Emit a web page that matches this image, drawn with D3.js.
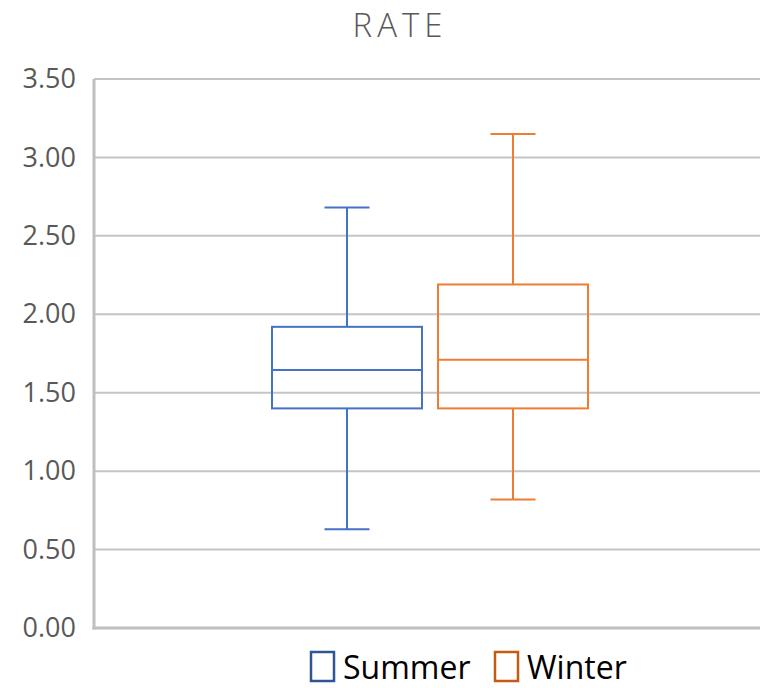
<!DOCTYPE html>
<html><head><meta charset="utf-8">
<script src="https://cdn.jsdelivr.net/npm/d3@7"></script>
<style>body{margin:0;background:#fff;} text{font-family:"Open Sans",sans-serif;}</style>
</head><body>
<svg id="c" width="760" height="688"></svg>
<script>
const categories = ["Summer", "Winter"];
const mins    = [0.63, 0.82];
const q1s     = [1.40, 1.40];
const medians = [1.645, 1.71];
const q3s     = [1.92, 2.19];
const maxs    = [2.68, 3.15];
const yTicks  = [0, 0.5, 1, 1.5, 2, 2.5, 3, 3.5];
const colors  = ["#4472C4", "#ED7D31"];
const legendColors = ["#2F5597", "#C55A11"];

const svg = d3.select("#c");
const pLeft = 94, pRight = 760, pTop = 79, pBottom = 628;
const y = d3.scaleLinear().domain([0, 3.5]).range([pBottom, pTop]);
const x = d3.scaleBand().domain(categories).range([272, 588]).paddingInner(0.0964);

// gridlines
svg.append("g").selectAll("line").data(yTicks.filter(d => d > 0)).join("line")
  .attr("x1", pLeft).attr("x2", pRight)
  .attr("y1", d => y(d)).attr("y2", d => y(d))
  .attr("stroke", "#c4c4c4").attr("stroke-width", 2);

// axes lines
svg.append("line").attr("x1", pLeft).attr("x2", pLeft).attr("y1", y(3.5)).attr("y2", pBottom + 1.5)
  .attr("stroke", "#bfbfbf").attr("stroke-width", 3);
svg.append("line").attr("x1", pLeft - 1.5).attr("x2", pRight).attr("y1", pBottom).attr("y2", pBottom)
  .attr("stroke", "#bfbfbf").attr("stroke-width", 3);

// y tick labels
const yAxis = d3.axisLeft(y).tickValues(yTicks).tickFormat(d3.format(".2f")).tickSize(0).tickPadding(18);
const ya = svg.append("g").attr("transform", `translate(${pLeft},0)`).call(yAxis);
ya.select(".domain").remove();
ya.selectAll("text").attr("font-size", 27).attr("fill", "#595959").attr("font-family", "Open Sans");

// boxes
const data = categories.map((c, i) => ({c, i, min: mins[i], q1: q1s[i], med: medians[i], q3: q3s[i], max: maxs[i]}));
const g = svg.append("g").selectAll("g").data(data).join("g");
const bw = x.bandwidth();
g.each(function(d) {
  const s = d3.select(this);
  const x0 = x(d.c), cx = x0 + bw / 2, col = colors[d.i], capW = bw * 0.3;
  s.append("line").attr("x1", cx).attr("x2", cx).attr("y1", y(d.max)).attr("y2", y(d.q3)).attr("stroke", col).attr("stroke-width", 2);
  s.append("line").attr("x1", cx).attr("x2", cx).attr("y1", y(d.q1)).attr("y2", y(d.min)).attr("stroke", col).attr("stroke-width", 2);
  s.append("line").attr("x1", cx - capW / 2).attr("x2", cx + capW / 2).attr("y1", y(d.max)).attr("y2", y(d.max)).attr("stroke", col).attr("stroke-width", 2);
  s.append("line").attr("x1", cx - capW / 2).attr("x2", cx + capW / 2).attr("y1", y(d.min)).attr("y2", y(d.min)).attr("stroke", col).attr("stroke-width", 2);
  s.append("rect").attr("x", x0).attr("width", bw).attr("y", y(d.q3)).attr("height", y(d.q1) - y(d.q3))
    .attr("fill", "none").attr("stroke", col).attr("stroke-width", 2);
  s.append("line").attr("x1", x0).attr("x2", x0 + bw).attr("y1", y(d.med)).attr("y2", y(d.med)).attr("stroke", col).attr("stroke-width", 2);
});

// title
svg.append("text").attr("x", 400).attr("y", 37).attr("text-anchor", "middle")
  .attr("font-size", 33).attr("font-weight", 300).attr("fill", "#595959").attr("letter-spacing", 5).text("RATE");

// legend
const legendX = [310, 494];
const lg = svg.append("g").selectAll("g").data(categories).join("g")
  .attr("transform", (d, i) => `translate(${legendX[i]},652)`);
lg.append("rect").attr("x", 1).attr("y", 0).attr("width", 23).attr("height", 29)
  .attr("fill", "none").attr("stroke", (d, i) => legendColors[i]).attr("stroke-width", 2.5);
lg.append("text").attr("x", 33).attr("y", 27).attr("font-size", 32).attr("fill", "#000").text(d => d);
</script>
</body></html>
